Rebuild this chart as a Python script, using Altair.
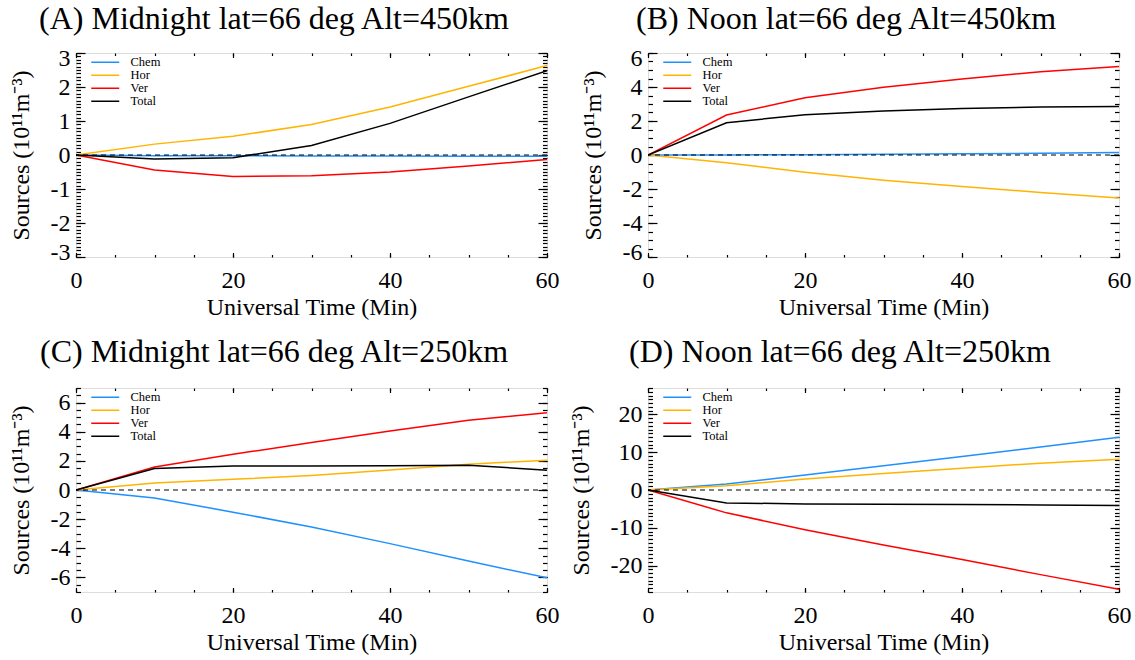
import altair as alt
import pandas as pd

# ---------------- data ----------------
minutes = [0, 10, 20, 30, 40, 50, 60]
series = ["Chem", "Hor", "Ver", "Total"]
colors = ["#1E90FF", "#FFB400", "#FF0000", "#000000"]

# (A) Midnight, 450 km
a_chem = [0, -0.02, -0.02, -0.03, -0.03, -0.04, -0.04]
a_hor = [0, 0.32, 0.55, 0.90, 1.41, 2.02, 2.63]
a_ver = [0, -0.44, -0.63, -0.61, -0.50, -0.32, -0.13]
a_tot = [0, -0.12, -0.08, 0.28, 0.93, 1.71, 2.48]

# (B) Noon, 450 km
b_chem = [0, 0.0, 0.02, 0.04, 0.07, 0.10, 0.14]
b_hor = [0, -0.45, -1.02, -1.49, -1.86, -2.20, -2.53]
b_ver = [0, 2.35, 3.37, 3.98, 4.47, 4.90, 5.20]
b_tot = [0, 1.90, 2.37, 2.59, 2.73, 2.82, 2.86]

# (C) Midnight, 250 km
c_chem = [0, -0.55, -1.52, -2.54, -3.68, -4.87, -6.03]
c_hor = [0, 0.48, 0.73, 1.0, 1.37, 1.77, 2.05]
c_ver = [0, 1.58, 2.45, 3.26, 4.05, 4.78, 5.31]
c_tot = [0, 1.47, 1.64, 1.64, 1.66, 1.70, 1.36]

# (D) Noon, 250 km
d_chem = [0, 1.58, 4.0, 6.4, 8.86, 11.4, 13.95]
d_hor = [0, 1.14, 2.9, 4.39, 5.79, 7.1, 8.16]
d_ver = [0, -6.05, -10.5, -14.56, -18.4, -22.4, -26.3]
d_tot = [0, -3.42, -3.68, -3.77, -3.86, -3.95, -4.12]

titles = [
    "(A) Midnight lat=66 deg Alt=450km",
    "(B) Noon lat=66 deg Alt=450km",
    "(C) Midnight lat=66 deg Alt=250km",
    "(D) Noon lat=66 deg Alt=250km",
]
y_limits = [3, 6, 7, 27]
y_major = [
    [-3, -2, -1, 0, 1, 2, 3],
    [-6, -4, -2, 0, 2, 4, 6],
    [-6, -4, -2, 0, 2, 4, 6],
    [-20, -10, 0, 10, 20],
]
y_minor_step = [0.1, 0.5, 0.5, 1]
title_offsets = [10, 10, 18, 18]
x_major = [0, 20, 40, 60]
x_minor = [0, 5, 10, 15, 20, 25, 30, 35, 40, 45, 50, 55, 60]

FONT = "Liberation Serif"
W, H = 471, 204
LABEL_EXPR = "replace(datum.label, '\u2212', '-')"


def make_df(vals):
    rows = []
    for s, v in zip(series, vals):
        for t, y in zip(minutes, v):
            rows.append({"t": t, "v": y, "s": s})
    return pd.DataFrame(rows)


def tick_axis(orient, values, size):
    return alt.Axis(
        orient=orient, values=values, tickSize=size, offset=-size,
        labels=False, domain=False, grid=False, title=None, ticks=True,
        tickColor="black", tickWidth=1.2,
    )


def panel(title, vals, ylim, ymaj, ystep, toff):
    df = make_df(vals)
    xs = alt.Scale(domain=[0, 60], nice=False, zero=False)
    ys = alt.Scale(domain=[-ylim, ylim], nice=False, zero=False)
    n = int(round(2 * ylim / ystep))
    y_minor = [round(-ylim + ystep * i, 3) for i in range(n + 1)]
    base = alt.Chart(df)

    lines = base.mark_line(strokeWidth=1.5, clip=True).encode(
        x=alt.X("t:Q", scale=xs, axis=alt.Axis(
            values=x_major, title="Universal Time (Min)", ticks=False, tickSize=0,
            domain=False, grid=False, labelPadding=11, titlePadding=3,
            labelFontSize=24, titleFontSize=24, labelFont=FONT, titleFont=FONT,
            titleFontWeight="normal", labelColor="black", titleColor="black",
            labelFlush=False, labelOverlap=False, labelExpr=LABEL_EXPR)),
        y=alt.Y("v:Q", scale=ys, axis=alt.Axis(
            values=ymaj, title="Sources (10\u00b9\u00b9m\u207b\u00b3)", ticks=False, tickSize=0,
            domain=False, grid=False, labelPadding=6, titlePadding=17,
            labelFontSize=24, titleFontSize=24, labelFont=FONT, titleFont=FONT,
            titleFontWeight="normal", labelColor="black", titleColor="black",
            labelFlush=True, labelFlushOffset=7, labelOverlap=False,
            labelExpr=LABEL_EXPR)),
        color=alt.Color("s:N", scale=alt.Scale(domain=series, range=colors),
                        legend=alt.Legend(
                            title=None, orient="none", legendX=23, legendY=3,
                            symbolType="M-2.8,0L2.8,0", symbolSize=100,
                            symbolStrokeWidth=1.5, labelFont=FONT,
                            labelFontSize=12.5, labelColor="black",
                            labelOffset=19, rowPadding=-0.4, padding=0)),
    )
    zero = alt.Chart(pd.DataFrame({"v": [0]})).mark_rule(
        color="black", strokeDash=[5, 4], strokeWidth=1.2
    ).encode(y=alt.Y("v:Q", scale=ys, axis=None))

    carriers = []
    for xo, xv, xsz, yo, yv, ysz in [
        ("bottom", x_major, 4.5, "left", ymaj, 9),
        ("bottom", x_minor, 2.5, "left", y_minor, 4.5),
        ("top", x_major, 4.5, "right", ymaj, 9),
        ("top", x_minor, 2.5, "right", y_minor, 4.5),
    ]:
        carriers.append(base.mark_point(opacity=0).encode(
            x=alt.X("t:Q", scale=xs, axis=tick_axis(xo, xv, xsz)),
            y=alt.Y("v:Q", scale=ys, axis=tick_axis(yo, yv, ysz)),
        ))

    return alt.layer(lines, zero, *carriers).resolve_axis(
        x="independent", y="independent"
    ).properties(
        width=W, height=H,
        title=alt.TitleParams(text=title, font=FONT, fontSize=32, fontWeight="normal",
                              color="black", anchor="middle", frame="bounds",
                              offset=toff, dx=-10),
    )


all_vals = [
    [a_chem, a_hor, a_ver, a_tot],
    [b_chem, b_hor, b_ver, b_tot],
    [c_chem, c_hor, c_ver, c_tot],
    [d_chem, d_hor, d_ver, d_tot],
]
panels = [panel(titles[i], all_vals[i], y_limits[i], y_major[i], y_minor_step[i], title_offsets[i])
          for i in range(4)]

chart = alt.concat(*panels, columns=2, spacing=alt.RowColnumber(row=15, column=8)).resolve_legend(
    color="independent"
).properties(
    padding={"left": 8, "top": 2, "right": 0, "bottom": 0}
).configure_view(stroke="black", strokeWidth=1.6).configure(background="white")

chart.save("out.html", embed_options={"renderer": "svg", "actions": False})
